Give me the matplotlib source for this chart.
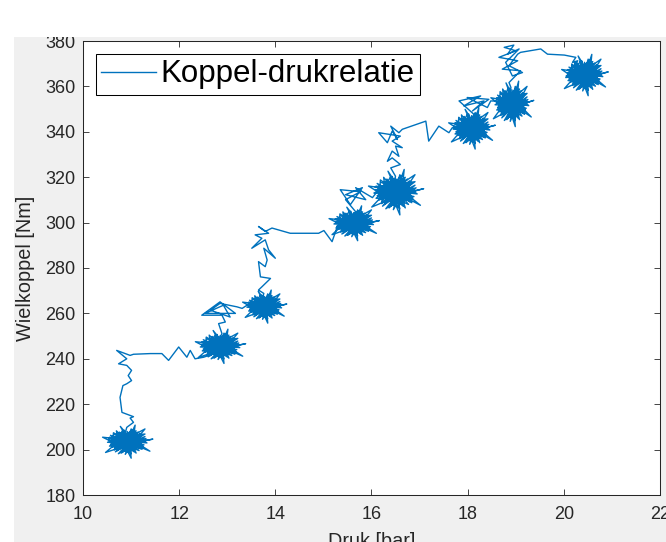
import numpy as np
import matplotlib.pyplot as plt
from matplotlib.patches import Rectangle

plt.rcParams['font.family'] = ['Liberation Sans', 'DejaVu Sans']

# dense clusters (steady states): centre and half-size of the scribble core
blob_x = [10.92, 12.85, 13.77, 15.63, 16.50, 18.08, 18.92, 20.43]
blob_y = [203.5, 245.5, 263.0, 299.7, 313.4, 341.5, 352.3, 365.0]
blob_rx = [0.41, 0.41, 0.36, 0.41, 0.45, 0.38, 0.35, 0.38]
blob_ry = [5.6, 5.8, 5.6, 5.9, 7.7, 7.0, 7.7, 7.0]

star_u = [0.95, -0.85, 0.55, -0.50, -0.15, 0.20, -0.90, 0.80, 0.30, -0.65,
          0.70, -1.00, 0.45, -0.30, 0.90, -0.60, -0.40, 0.60, -0.95, 1.00,
          0.10, -0.05, 0.75, -0.75, -0.70, 0.65, 0.20, -0.25, 0.85, -0.80,
          0.40, -0.45, 0.95, -0.70, -0.25, 0.35, -0.85, 0.75, 0.60, -0.55,
          0.50, -0.90, 0.30, -0.10, 0.65, -0.65, -0.50, 0.85, -0.80, 0.15,
          0.00, 0.45, -0.35, 0.90, -0.60, 0.25, -0.95, 0.70, -0.20, 0.10,
          0.80, -0.75, 0.55, -0.40, -0.55, 0.40, -0.70, 0.60, 0.00, 0.05,
          0.50, -0.45, 0.15, -0.20, 0.55, -0.50, 0.35, -0.35, -0.10, 0.05,
          0.60, -0.60, 0.25, -0.30, 0.45, -0.55,
          1.30, -0.40, -1.25, 0.30, 0.40, -0.10, 0.20, 0.10, 1.15, -0.30,
          -1.10, 0.35, -0.35, 0.20, 0.90, -0.20]
star_v = [0.10, -0.20, 0.75, -0.70, 0.90, -0.95, 0.35, -0.40, 0.65, 0.55,
          -0.15, -0.05, 0.85, -0.90, 0.40, -0.55, 0.75, -0.70, 0.15, -0.10,
          0.70, -0.75, 0.55, -0.45, 0.70, -0.55, 1.00, -0.80, -0.25, 0.25,
          0.45, -0.95, 0.25, -0.30, 0.85, -0.80, 0.50, -0.60, 0.30, 0.35,
          -0.35, -0.35, 0.95, -1.00, 0.65, -0.65, 0.60, -0.05, 0.05, -0.60,
          0.80, -0.90, 0.40, 0.60, -0.80, 0.55, 0.30, -0.30, 0.65, -0.85,
          0.15, -0.10, 0.50, -0.60, 0.85, -0.55, 0.10, 0.05, -0.50, 0.45,
          0.20, -0.25, 0.55, -0.50, -0.30, 0.30, 0.40, -0.45, 0.60, -0.55,
          0.10, -0.05, -0.45, 0.50, 0.45, -0.40,
          0.20, -0.30, 0.35, 0.10, 1.30, -0.40, -1.30, 0.30, -0.75, 0.20,
          -0.85, -0.10, 1.20, -0.30, 1.00, 0.10]

# transitions between clusters
walk_1_x = [10.91, 11.05, 10.98, 11.05, 10.81, 10.77, 10.83, 10.91, 11.01, 10.94, 11.01, 10.91, 10.74,
            10.91, 10.70, 10.98, 11.05, 11.40, 11.64, 11.78, 11.99, 12.16, 12.23, 12.33, 12.51]
walk_1_y = [209.8, 212.0, 213.9, 214.5, 216.4, 223.0, 228.2, 229.0, 230.4, 232.6, 234.9, 237.1, 237.8,
            240.0, 243.7, 241.5, 242.0, 242.3, 242.3, 239.3, 245.2, 240.7, 243.7, 240.0, 240.7]
walk_2_x = [12.89, 12.82, 12.96, 12.89, 12.47, 12.85, 13.17, 12.54, 12.92, 13.06, 12.65, 12.85, 13.20, 13.31, 13.41]
walk_2_y = [251.1, 255.5, 256.2, 259.2, 259.2, 265.1, 260.0, 260.0, 263.6, 258.4, 261.4, 264.4, 262.9, 262.2, 263.6]
walk_3_x = [13.76, 13.65, 13.72, 13.90, 13.69, 13.65, 13.79, 13.83, 13.76, 14.00, 13.86, 13.79,
            13.51, 13.72, 13.58, 13.86, 13.65, 13.79, 13.93, 14.31, 14.90, 15.01, 15.18, 15.29]
walk_3_y = [268.8, 270.3, 271.7, 275.4, 276.1, 282.8, 280.6, 283.5, 288.7, 284.3, 288.0, 292.4,
            288.7, 293.1, 294.6, 295.3, 298.3, 296.1, 297.6, 295.3, 295.3, 296.5, 291.6, 298.3]
walk_4_x = [15.67, 15.46, 15.77, 15.35, 15.56, 15.81, 15.46, 15.88, 15.67, 16.02, 16.15]
walk_4_y = [304.8, 310.1, 313.6, 314.5, 307.9, 315.4, 312.3, 310.1, 315.4, 311.0, 314.5]
walk_5_x = [16.50, 16.40, 16.60, 16.43, 16.33, 16.43, 16.57, 16.50, 16.64, 16.43, 16.60, 16.15,
            16.33, 16.43, 16.54, 16.40, 16.57, 16.64, 17.13, 17.19, 17.40, 17.61, 17.68]
walk_5_y = [320.4, 324.1, 325.6, 328.5, 327.0, 331.5, 329.2, 333.7, 333.0, 335.9, 338.1, 339.6,
            335.2, 340.3, 336.6, 342.5, 339.6, 341.1, 344.7, 335.9, 342.5, 339.6, 341.8]
walk_6_x = [18.13, 17.82, 18.27, 17.92, 18.34, 18.10, 18.44, 17.99, 18.41, 18.48]
walk_6_y = [347.7, 353.6, 355.8, 351.4, 353.6, 349.2, 354.3, 355.1, 350.7, 353.6]
walk_7_x = [18.90, 18.86, 19.10, 18.72, 19.04, 18.65, 19.00, 18.76, 18.96, 18.83, 19.07, 18.79,
            18.93, 19.14, 18.86, 19.04, 19.10, 19.52, 19.66, 20.01, 20.25, 20.18, 20.29, 20.04]
walk_7_y = [359.5, 361.7, 366.9, 367.6, 371.3, 372.8, 375.7, 377.2, 378.2, 374.2, 376.5, 370.6,
            364.6, 366.1, 369.1, 374.2, 375.0, 376.5, 374.2, 373.8, 372.8, 370.6, 371.3, 363.9]

walks_x = [walk_1_x, walk_2_x, walk_3_x, walk_4_x, walk_5_x, walk_6_x, walk_7_x]
walks_y = [walk_1_y, walk_2_y, walk_3_y, walk_4_y, walk_5_y, walk_6_y, walk_7_y]

# build one continuous trace: cluster, walk, cluster, ...
su = np.array(star_u)
sv = np.array(star_v)
px, py = [], []
for i in range(len(blob_x)):
    px.extend(blob_x[i] + blob_rx[i] * su)
    py.extend(blob_y[i] + blob_ry[i] * sv)
    if i < len(walks_x):
        px.extend(walks_x[i])
        py.extend(walks_y[i])

fig = plt.figure(figsize=(6.66, 5.42), dpi=100)
fig.patch.set_facecolor('white')
fig.add_artist(Rectangle((14 / 666, 0), 1, (542 - 37) / 542, transform=fig.transFigure,
                         facecolor='#f0f0f0', edgecolor='none', zorder=-5))

ax = fig.add_axes([83 / 666, (542 - 495) / 542, (660 - 83) / 666, (495 - 41) / 542])
ax.plot(px, py, color='#0072bd', lw=1.0, label='Koppel-drukrelatie')

ax.set_xlim(10, 22)
ax.set_ylim(180, 380)
ax.set_xticks(np.arange(10, 23, 2))
ax.set_yticks(np.arange(180, 381, 20))
ax.tick_params(direction='in', length=4, width=0.6, top=True, right=True,
               colors='#262626', labelsize=13)
ax.tick_params(axis='x', pad=8)
ax.tick_params(axis='y', pad=5.5)
for s in ax.spines.values():
    s.set_color('#262626')
    s.set_linewidth(0.75)

ax.set_xlabel('Druk [bar]', fontsize=14.3, color='#262626', labelpad=6.5)
ax.set_ylabel('Wielkoppel [Nm]', fontsize=14.3, color='#262626', labelpad=7)

leg = ax.legend(loc='upper left', fontsize=22.5, fancybox=False, framealpha=1,
                edgecolor='black', borderaxespad=0.42, borderpad=0.17,
                handlelength=1.74, handletextpad=0.16)
leg.get_frame().set_linewidth(0.75)

# white band over the cropped top edge
fig.add_artist(Rectangle((0, (542 - 37) / 542), 1, 37 / 542, transform=fig.transFigure,
                         facecolor='white', edgecolor='none', zorder=10))

fig.savefig('out.png', dpi=100)
